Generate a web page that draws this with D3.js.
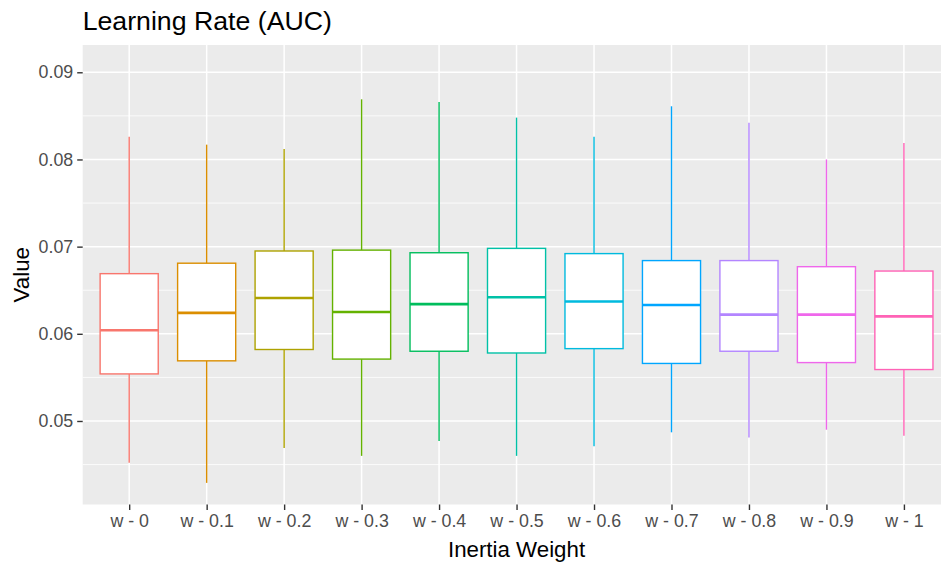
<!DOCTYPE html>
<html>
<head>
<meta charset="utf-8">
<script src="https://cdn.jsdelivr.net/npm/d3@7"></script>
<style>
  html, body { margin: 0; padding: 0; background: #fff; }
  svg { display: block; font-family: "Liberation Sans", Arial, sans-serif; }
</style>
</head>
<body>
<svg id="chart" width="941" height="565"></svg>
<script>
const categories = ["w - 0", "w - 0.1", "w - 0.2", "w - 0.3", "w - 0.4", "w - 0.5", "w - 0.6", "w - 0.7", "w - 0.8", "w - 0.9", "w - 1"];
const whiskerLow = [0.0452, 0.0429, 0.0469, 0.0460, 0.0477, 0.0460, 0.0471, 0.0487, 0.0481, 0.0490, 0.0483];
const q1 =         [0.0554, 0.0569, 0.0582, 0.0571, 0.0580, 0.0578, 0.0583, 0.0566, 0.0580, 0.0567, 0.0559];
const medians =    [0.0604, 0.0624, 0.0641, 0.0625, 0.0634, 0.0642, 0.0637, 0.0633, 0.0622, 0.0622, 0.0620];
const q3 =         [0.0669, 0.0681, 0.0695, 0.0696, 0.0693, 0.0698, 0.0692, 0.0684, 0.0684, 0.0677, 0.0672];
const whiskerHigh =[0.0826, 0.0817, 0.0812, 0.0869, 0.0866, 0.0848, 0.0826, 0.0861, 0.0842, 0.0800, 0.0819];
const colors = ["#F8766D", "#DB8E00", "#AEA200", "#64B200", "#00BD5C", "#00C1A7", "#00BADE", "#00A6FF", "#B385FF", "#EF67EB", "#FF63B6"];
const yTicks = [0.05, 0.06, 0.07, 0.08, 0.09];
const yMinor = [0.045, 0.055, 0.065, 0.075, 0.085];
const yDomain = [0.04042, 0.09313];
const titleText = "Learning Rate (AUC)";
const xTitle = "Inertia Weight";
const yTitle = "Value";

const svg = d3.select("#chart");
const panel = { left: 82.7, right: 950.4, top: 45, bottom: 504.5 };

const n = categories.length;
const step = (panel.right - panel.left) / (n - 1 + 1.2);
const x = d3.scalePoint().domain(categories)
  .range([panel.left + 0.6 * step, panel.right - 0.6 * step]);
const y = d3.scaleLinear().domain(yDomain).range([panel.bottom, panel.top]);
const boxW = step * 0.75;

// panel background
svg.append("rect")
  .attr("x", panel.left).attr("y", panel.top)
  .attr("width", panel.right - panel.left).attr("height", panel.bottom - panel.top)
  .attr("fill", "#EBEBEB");

const grid = svg.append("g");
grid.selectAll("line.minor").data(yMinor).join("line")
  .attr("x1", panel.left).attr("x2", panel.right)
  .attr("y1", d => y(d)).attr("y2", d => y(d))
  .attr("stroke", "#fff").attr("stroke-width", 0.8);
grid.selectAll("line.major").data(yTicks).join("line")
  .attr("x1", panel.left).attr("x2", panel.right)
  .attr("y1", d => y(d)).attr("y2", d => y(d))
  .attr("stroke", "#fff").attr("stroke-width", 1.5);
grid.selectAll("line.xmajor").data(categories).join("line")
  .attr("x1", d => x(d)).attr("x2", d => x(d))
  .attr("y1", panel.top).attr("y2", panel.bottom)
  .attr("stroke", "#fff").attr("stroke-width", 1.5);

// boxplots
const data = categories.map((c, i) => ({
  c, lo: whiskerLow[i], q1: q1[i], med: medians[i], q3: q3[i], hi: whiskerHigh[i], col: colors[i]
}));
const boxes = svg.append("g").selectAll("g").data(data).join("g");
boxes.append("line")
  .attr("x1", d => x(d.c)).attr("x2", d => x(d.c))
  .attr("y1", d => y(d.hi)).attr("y2", d => y(d.q3))
  .attr("stroke", d => d.col).attr("stroke-width", 1.4);
boxes.append("line")
  .attr("x1", d => x(d.c)).attr("x2", d => x(d.c))
  .attr("y1", d => y(d.q1)).attr("y2", d => y(d.lo))
  .attr("stroke", d => d.col).attr("stroke-width", 1.4);
boxes.append("rect")
  .attr("x", d => x(d.c) - boxW / 2).attr("width", boxW)
  .attr("y", d => y(d.q3)).attr("height", d => y(d.q1) - y(d.q3))
  .attr("fill", "#fff").attr("stroke", d => d.col).attr("stroke-width", 1.4);
boxes.append("line")
  .attr("x1", d => x(d.c) - boxW / 2).attr("x2", d => x(d.c) + boxW / 2)
  .attr("y1", d => y(d.med)).attr("y2", d => y(d.med))
  .attr("stroke", d => d.col).attr("stroke-width", 2.6);

// axes
const yAxis = svg.append("g")
  .attr("transform", `translate(${panel.left},0)`)
  .call(d3.axisLeft(y).tickValues(yTicks).tickSize(5.5).tickPadding(4).tickFormat(d3.format(".2f")));
const xAxis = svg.append("g")
  .attr("transform", `translate(0,${panel.bottom})`)
  .call(d3.axisBottom(x).tickSize(5.5).tickPadding(4));
[yAxis, xAxis].forEach(a => {
  a.select(".domain").remove();
  a.selectAll(".tick line").attr("stroke", "#333333").attr("stroke-width", 1.4);
  a.selectAll(".tick text").attr("fill", "#4D4D4D").style("font-size", "17.8px")
    .style("font-family", "'Liberation Sans', Arial, sans-serif");
});

// titles
svg.append("text").attr("x", panel.left).attr("y", 29.5)
  .style("font-size", "26.7px").attr("fill", "#000").text(titleText);
svg.append("text").attr("x", (panel.left + panel.right) / 2).attr("y", 557)
  .attr("text-anchor", "middle").style("font-size", "22.3px").attr("fill", "#000").text(xTitle);
svg.append("text")
  .attr("transform", `translate(29,${(panel.top + panel.bottom) / 2}) rotate(-90)`)
  .attr("text-anchor", "middle").style("font-size", "22.3px").attr("fill", "#000").text(yTitle);
</script>
</body>
</html>
